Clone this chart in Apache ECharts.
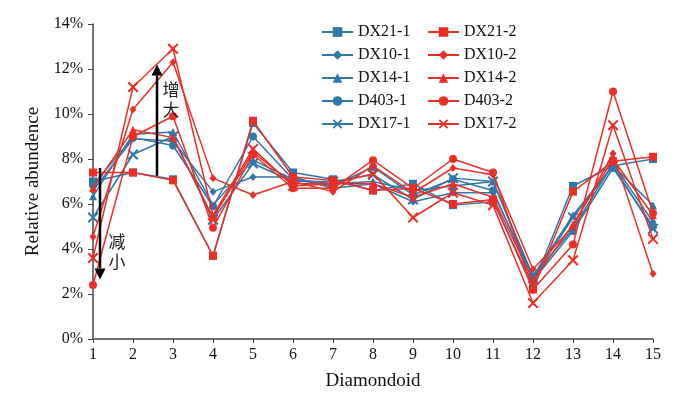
<!DOCTYPE html>
<html lang="en">
<head>
    <meta charset="UTF-8">
    <title>Diamondoid relative abundance</title>
    <script src="https://cdn.jsdelivr.net/npm/echarts@6/dist/echarts.min.js"></script>
    <style>
        html, body { margin: 0; padding: 0; background: #fff; }
        #main { width: 678px; height: 397px; }
    </style>
</head>
<body>
<div id="main"></div>
<script>
    // diamondoid index 1..15
    const diamondoid = [1, 2, 3, 4, 5, 6, 7, 8, 9, 10, 11, 12, 13, 14, 15];
    const yTicks = [0, 2, 4, 6, 8, 10, 12, 14];

    // relative abundance (%)
    const DX21_1 = [7.0, 7.4, 7.1, 3.7, 9.6, 7.4, 7.1, 6.6, 6.9, 5.95, 6.1, 2.4, 6.8, 7.7, 8.0];
    const DX21_2 = [7.4, 7.4, 7.05, 3.7, 9.7, 7.2, 7.05, 6.6, 6.7, 6.0, 6.2, 2.2, 6.55, 7.9, 8.1];
    const DX10_1 = [6.6, 8.9, 8.8, 6.55, 7.2, 7.2, 6.7, 6.9, 6.1, 6.5, 6.5, 2.8, 4.9, 7.8, 5.2];
    const DX10_2 = [4.55, 10.2, 12.3, 7.15, 6.4, 7.0, 6.55, 7.7, 6.5, 7.6, 7.3, 3.1, 5.0, 8.25, 2.9];
    const DX14_1 = [6.35, 9.1, 9.2, 5.95, 7.95, 7.1, 6.9, 7.0, 6.6, 6.8, 7.0, 2.8, 5.5, 7.7, 5.95];
    const DX14_2 = [6.7, 9.3, 8.95, 5.4, 8.3, 6.9, 6.9, 6.9, 6.3, 6.9, 6.3, 2.6, 5.1, 8.0, 5.5];
    const D403_1 = [6.85, 8.95, 8.6, 5.9, 9.0, 7.1, 6.8, 7.65, 6.4, 7.1, 6.6, 2.6, 4.8, 7.6, 5.0];
    const D403_2 = [2.4, 9.0, 9.9, 4.95, 8.2, 6.7, 6.7, 7.95, 6.7, 8.0, 7.4, 2.2, 4.2, 11.0, 5.6];
    const DX17_1 = [5.4, 8.2, 9.0, 5.3, 7.8, 7.0, 7.0, 7.3, 6.2, 7.15, 7.0, 2.7, 5.4, 7.7, 4.9];
    const DX17_2 = [3.6, 11.2, 12.9, 5.5, 8.45, 6.8, 6.9, 7.35, 5.4, 6.5, 5.95, 1.6, 3.5, 9.5, 4.45];

    const blue = '#2f78a8';
    const red = '#ec2e26';
    const serif = "'Liberation Serif', 'Times New Roman', serif";
    const crossPath = 'path://M0,1.3L1.3,0L5,3.7L8.7,0L10,1.3L6.3,5L10,8.7L8.7,10L5,6.3L1.3,10L0,8.7L3.7,5Z';

    function makeSeries(name, values, color, symbol, size) {
        return {
            name: name,
            type: 'line',
            data: values.map(function (v, i) { return [diamondoid[i], v]; }),
            symbol: symbol,
            symbolSize: size,
            lineStyle: { color: color, width: 1.5 },
            itemStyle: { color: color },
            emphasis: { disabled: true },
            z: color === red ? 3 : 2
        };
    }

    let myChart = echarts.init(document.getElementById('main'));

    let option = {
        animation: false,
        grid: { left: 93, right: 25, top: 24, bottom: 58 },
        legend: [
            {
                orient: 'vertical',
                left: 321, top: 24, padding: 0,
                itemWidth: 31, itemHeight: 12, itemGap: 7,
                textStyle: { fontFamily: serif, fontSize: 16, color: '#111' },
                data: ['DX21-1', 'DX10-1', 'DX14-1', 'D403-1', 'DX17-1']
            },
            {
                orient: 'vertical',
                left: 427, top: 24, padding: 0,
                itemWidth: 31, itemHeight: 12, itemGap: 7,
                textStyle: { fontFamily: serif, fontSize: 16, color: '#111' },
                data: ['DX21-2', 'DX10-2', 'DX14-2', 'D403-2', 'DX17-2']
            }
        ],
        xAxis: {
            type: 'value',
            min: 1, max: 15, interval: 1,
            name: 'Diamondoid',
            nameLocation: 'middle',
            nameGap: 33,
            nameTextStyle: { fontFamily: serif, fontSize: 19, color: '#111' },
            axisLine: { lineStyle: { color: '#444', width: 1.5 } },
            axisTick: { show: true, length: 4, lineStyle: { color: '#444' } },
            axisLabel: { fontFamily: serif, fontSize: 16, color: '#111', margin: 8 },
            splitLine: { show: false }
        },
        yAxis: {
            type: 'value',
            min: yTicks[0], max: yTicks[yTicks.length - 1], interval: 2,
            name: 'Relative abundence',
            nameLocation: 'middle',
            nameGap: 50,
            nameTextStyle: { fontFamily: serif, fontSize: 19, color: '#111' },
            axisLine: { show: true, lineStyle: { color: '#444', width: 1.5 } },
            axisTick: { show: true, length: 5, lineStyle: { color: '#444' } },
            axisLabel: { fontFamily: serif, fontSize: 16, color: '#111', margin: 10, formatter: '{value}%' },
            splitLine: { show: false }
        },
        series: [
            makeSeries('DX21-1', DX21_1, blue, 'rect', 8),
            makeSeries('DX21-2', DX21_2, red, 'rect', 8),
            makeSeries('DX10-1', DX10_1, blue, 'diamond', [7, 8]),
            makeSeries('DX10-2', DX10_2, red, 'diamond', [7, 8]),
            makeSeries('DX14-1', DX14_1, blue, 'triangle', 8),
            makeSeries('DX14-2', DX14_2, red, 'triangle', 8),
            makeSeries('D403-1', D403_1, blue, 'circle', 8),
            makeSeries('D403-2', D403_2, red, 'circle', 8),
            makeSeries('DX17-1', DX17_1, blue, crossPath, 11),
            makeSeries('DX17-2', DX17_2, red, crossPath, 11)
        ]
    };

    myChart.setOption(option);

    // arrows + labels (增大 / 减小), placed in data coordinates
    function arrow(x, yFrom, yTo, label, dx) {
        let p0 = myChart.convertToPixel({ gridIndex: 0 }, [x, yFrom]);
        let p1 = myChart.convertToPixel({ gridIndex: 0 }, [x, yTo]);
        let dir = p1[1] < p0[1] ? -1 : 1;
        let head = 11;
        let base = p1[1] - dir * head;
        return [
            {
                type: 'line',
                shape: { x1: p0[0], y1: p0[1], x2: p0[0], y2: base },
                style: { stroke: '#000', lineWidth: 2.5 },
                z: 10
            },
            {
                type: 'polygon',
                shape: { points: [[p1[0], p1[1]], [p1[0] - 5.5, base], [p1[0] + 5.5, base]] },
                style: { fill: '#000' },
                z: 10
            },
            {
                type: 'text',
                x: p0[0] + dx,
                y: label.y,
                style: {
                    text: label.text,
                    fontFamily: "'Noto Sans CJK SC', sans-serif",
                    fontSize: 17,
                    lineHeight: 20,
                    fill: '#222',
                    align: 'center',
                    verticalAlign: 'middle'
                },
                z: 10
            }
        ];
    }

    let up = arrow(2.6, 7.25, 12.2, { text: '增\n大', y: 100 }, 14);
    let down = arrow(1.175, 7.6, 2.65, { text: '减\n小', y: 252 }, 17);
    myChart.setOption({ graphic: up.concat(down) });
</script>
</body>
</html>
